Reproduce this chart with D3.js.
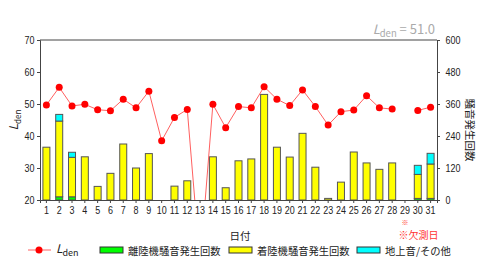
<!DOCTYPE html>
<html>
<head>
<meta charset="utf-8">
<script src="https://cdn.jsdelivr.net/npm/d3@7"></script>
<style>
  body { margin: 0; background: #fff; }
  text { font-family: "Noto Sans CJK JP", "DejaVu Sans", sans-serif; }
</style>
</head>
<body>
<svg id="chart" width="480" height="263"></svg>
<script>
// days of the month
const days = d3.range(1, 32)
// Lden per day (null = missing)
const lden = [49.7, 55.2, 49.4, 49.9, 48.2, 47.9, 51.5, 48.8, 54.0, 38.5,
  45.8, 48.3, 0, 49.9, 42.6, 49.2, 48.8, 55.4, 51.5, 49.5,
  54.4, 49.2, 43.4, 47.6, 48.1, 52.6, 48.8, 48.4, null, 48.0, 49.0]
// event counts per day
const takeoff = [0, 12, 12, 0, 0, 0, 0, 0, 0, 0, 0, 0, 0, 0, 0, 0, 0, 0, 0, 0,
  0, 0, 0, 0, 0, 0, 0, 0, 0, 6, 6]
const landing = [198, 284, 148, 162, 51, 100, 210, 120, 174, 0, 52, 72, 0, 162, 46, 147, 154, 396, 198, 161,
  250, 123, 6, 67, 180, 139, 115, 139, 0, 90, 129]
const ground = [0, 25, 19, 0, 0, 0, 0, 0, 0, 0, 0, 0, 0, 0, 0, 0, 0, 0, 0, 0,
  0, 0, 0, 0, 0, 0, 0, 0, 0, 34, 40]
const leftTicks = [20, 30, 40, 50, 60, 70]
const rightTicks = [0, 120, 240, 360, 480, 600]
const ldenMonth = '51.0'

const margin = { left: 40, top: 40, right: 43, bottom: 63 }
const width = 480 - margin.left - margin.right
const height = 263 - margin.top - margin.bottom

const svg = d3.select('#chart')
const g = svg.append('g').attr('transform', `translate(${margin.left},${margin.top})`)

const x = d3.scaleBand().domain(days).range([0, width])
const yL = d3.scaleLinear().domain([20, 70]).range([height, 0])
const yR = d3.scaleLinear().domain([0, 600]).range([height, 0])

g.append('defs').append('clipPath').attr('id', 'plot')
  .append('rect').attr('width', width).attr('height', height)

// stacked bars
const rows = days.map((d, i) => ({ day: d, takeoff: takeoff[i], landing: landing[i], ground: ground[i] }))
const stack = d3.stack().keys(['takeoff', 'landing', 'ground'])(rows)
const colors = { takeoff: '#00ff00', landing: '#ffff00', ground: '#00ffff' }
const bw = 7
stack.forEach((layer) => {
  g.append('g').selectAll('rect')
    .data(layer.filter((d) => d[1] > d[0]))
    .join('rect')
    .attr('x', (d) => x(d.data.day) + (x.bandwidth() - bw) / 2)
    .attr('y', (d) => yR(d[1]))
    .attr('width', bw)
    .attr('height', (d) => yR(d[0]) - yR(d[1]))
    .attr('fill', colors[layer.key])
    .attr('stroke', '#555')
    .attr('stroke-width', 1)
})

// frame
g.append('line').attr('x1', 0).attr('x2', width).attr('y1', 0).attr('y2', 0).attr('stroke', '#444')

// axes
const axL = g.append('g').call(d3.axisLeft(yL).tickValues(leftTicks).tickSize(3).tickPadding(4))
const axR = g.append('g').attr('transform', `translate(${width},0)`)
  .call(d3.axisRight(yR).tickValues(rightTicks).tickSize(3).tickPadding(8))
const axB = g.append('g').attr('transform', `translate(0,${height})`)
  .call(d3.axisBottom(x).tickSize(3).tickPadding(3))
;[axL, axR, axB].forEach((a) => {
  a.selectAll('path,line').attr('stroke', '#444')
  a.selectAll('text').attr('font-size', 11.5).attr('fill', '#222')
    .attr('transform', 'scale(0.78,1)')
    .style('font-family', '"Liberation Sans", Arial, sans-serif')
})

// Lden line
const line = d3.line()
  .defined((d) => d != null)
  .x((d, i) => x(days[i]) + x.bandwidth() / 2)
  .y((d) => yL(d))
g.append('path')
  .datum(lden)
  .attr('clip-path', 'url(#plot)')
  .attr('fill', 'none')
  .attr('stroke', '#ff6060')
  .attr('stroke-width', 1)
  .attr('d', line)
g.append('g').attr('clip-path', 'url(#plot)').selectAll('circle')
  .data(lden.map((v, i) => ({ v, day: days[i] })).filter((d) => d.v != null))
  .join('circle')
  .attr('cx', (d) => x(d.day) + x.bandwidth() / 2)
  .attr('cy', (d) => yL(d.v))
  .attr('r', 3.5)
  .attr('fill', '#ff0000')

// axis titles
const lt = svg.append('text').attr('transform', 'translate(18,120) rotate(-90)')
  .attr('text-anchor', 'middle').attr('font-size', 12).attr('fill', '#222')
lt.append('tspan').attr('font-style', 'italic').text('L')
lt.append('tspan').attr('font-size', 8).attr('dy', 3).text('den')

svg.append('text').attr('transform', 'translate(466,130) rotate(90)')
  .attr('text-anchor', 'middle').attr('font-size', 10.5).attr('fill', '#222')
  .text('騒音発生回数')

svg.append('text').attr('x', 240).attr('y', 240).attr('text-anchor', 'middle')
  .attr('font-size', 10.5).attr('fill', '#222').text('日付')

// monthly Lden
const mt = svg.append('text').attr('x', 435).attr('y', 34).attr('text-anchor', 'end')
  .attr('font-size', 13).attr('fill', '#aaa')
mt.append('tspan').attr('font-style', 'italic').text('L')
mt.append('tspan').attr('font-size', 9.5).attr('dy', 3).text('den')
mt.append('tspan').attr('dy', -3).text(' = ' + ldenMonth)

// missing-day note
svg.append('text').attr('x', x(29) + margin.left + x.bandwidth() / 2).attr('y', 225)
  .attr('text-anchor', 'middle').attr('font-size', 7).attr('fill', '#ff3333').text('※')
svg.append('text').attr('x', x(29) + margin.left).attr('y', 238.5)
  .attr('font-size', 10).attr('fill', '#ff3333').text('※欠測日')

// legend
const lg = svg.append('g').attr('transform', 'translate(0,250)')
lg.append('line').attr('x1', 28).attr('x2', 51).attr('stroke', '#ff6060')
lg.append('circle').attr('cx', 39).attr('r', 3.5).attr('fill', '#ff0000')
const ll = lg.append('text').attr('x', 56).attr('y', 3).attr('font-size', 12).attr('fill', '#222')
ll.append('tspan').attr('font-style', 'italic').text('L')
ll.append('tspan').attr('font-size', 9).attr('dy', 3).text('den')
const items = [
  { x: 100, color: colors.takeoff, label: '離陸機騒音発生回数' },
  { x: 229, color: colors.landing, label: '着陸機騒音発生回数' },
  { x: 357, color: colors.ground, label: '地上音/その他' },
]
items.forEach((it) => {
  lg.append('rect').attr('x', it.x).attr('y', -3).attr('width', 23).attr('height', 6)
    .attr('fill', it.color).attr('stroke', '#333').attr('stroke-width', 1)
  lg.append('text').attr('x', it.x + 28).attr('y', 4.5).attr('font-size', 10.3).attr('fill', '#222').text(it.label)
})
</script>
</body>
</html>
